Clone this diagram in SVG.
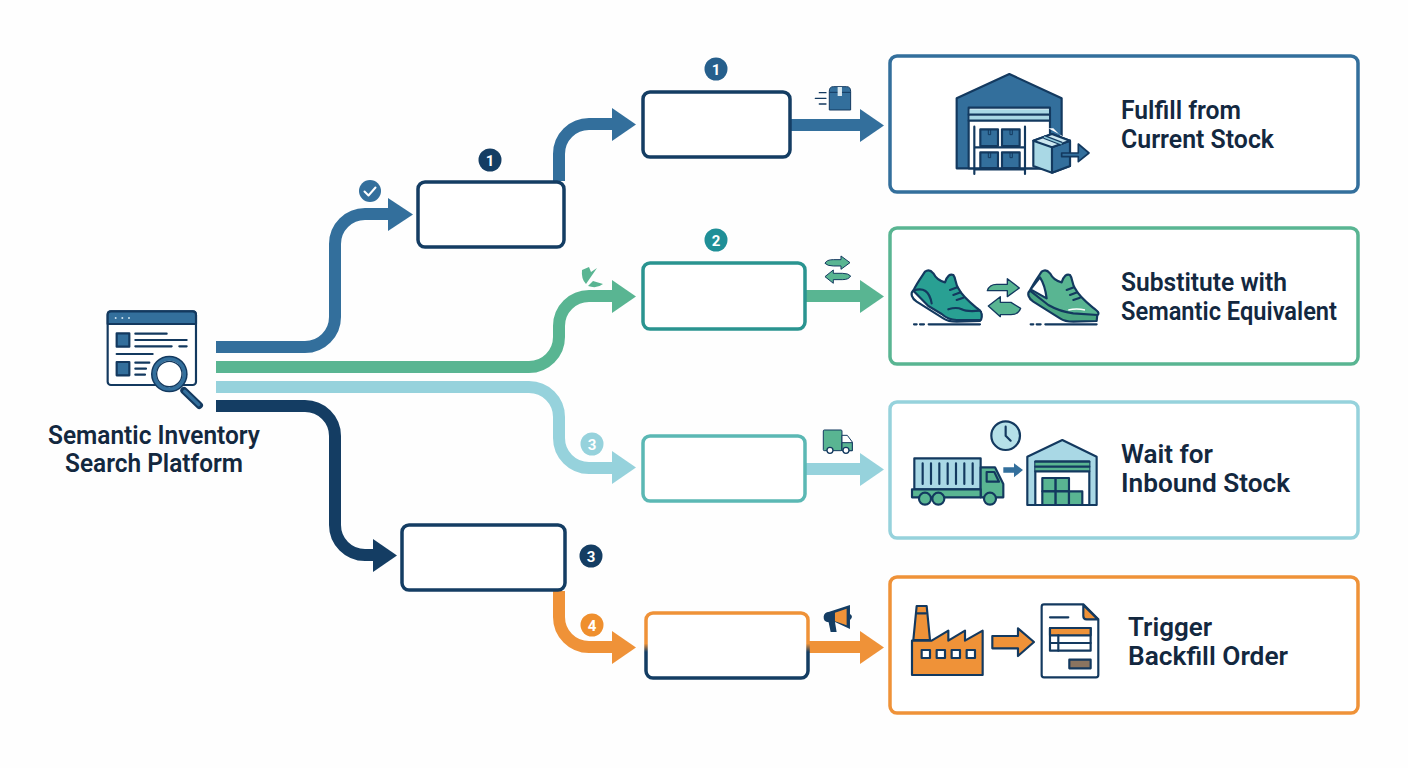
<svg xmlns="http://www.w3.org/2000/svg" width="1408" height="768" viewBox="0 0 1408 768">
<defs>
<style>
.lbl{font-family:Roboto,"Liberation Sans",sans-serif;font-weight:600;font-size:25px;fill:#13283f}
.num{font-family:Roboto,"Liberation Sans",sans-serif;font-weight:700;font-size:15px;fill:#fff;text-anchor:middle}
.box{fill:#fff;stroke-width:3.5}
.card{fill:#fff;stroke-width:3.5}
.conn{fill:none;stroke-width:12}
.ink{stroke:#13395f;stroke-width:6.5;stroke-linejoin:round;stroke-linecap:round}
.inkl{stroke:#13395f;stroke-width:6.5;fill:none;stroke-linecap:round;stroke-linejoin:round}
</style>
<linearGradient id="split" x1="0" y1="0" x2="0" y2="1"><stop offset="0.47" stop-color="#ef9238"/><stop offset="0.6" stop-color="#143d63"/></linearGradient>
</defs>
<rect width="1408" height="768" fill="#fefefe"/>

<g id="connectors">
<path class="conn" stroke="#336f9c" d="M216 347H305A30 30 0 0 0 335 317V244A30 30 0 0 1 365 214H390"/>
<path fill="#336f9c" d="M388 198L413 214.500L388 231Z"/>
<path class="conn" stroke="#59b592" d="M216 367H529A30 30 0 0 0 559 337V326A30 30 0 0 1 589 296H614"/>
<path fill="#59b592" d="M612 280L636 296.500L612 313Z"/>
<path class="conn" stroke="#96d2dc" d="M216 387H529A30 30 0 0 1 559 417V438A30 30 0 0 0 589 468H614"/>
<path fill="#96d2dc" d="M612 451L636 467.500L612 484Z"/>
<path class="conn" stroke="#143d63" d="M216 406H305A30 30 0 0 1 335 436V525A30 30 0 0 0 365 555H375"/>
<path fill="#143d63" d="M373 539L397 555.500L373 572Z"/>
<path class="conn" stroke="#336f9c" d="M559 181V154A30 30 0 0 1 589 124H614"/>
<path fill="#336f9c" d="M612 108L636 124.500L612 141Z"/>
<path class="conn" stroke="#ef9238" d="M559 591V617A30 30 0 0 0 589 647H614"/>
<path fill="#ef9238" d="M612 631L636 647.500L612 664Z"/>
<path class="conn" stroke="#336f9c" d="M791 125H862"/>
<path fill="#336f9c" d="M860 109L884 125.500L860 142Z"/>
<path class="conn" stroke="#59b592" d="M806 296H862"/>
<path fill="#59b592" d="M860 280L884 296.500L860 313Z"/>
<path class="conn" stroke="#96d2dc" d="M806 469H862"/>
<path fill="#96d2dc" d="M860 453L884 469.500L860 486Z"/>
<path class="conn" stroke="#ef9238" d="M809 647H862"/>
<path fill="#ef9238" d="M860 631L884 647.500L860 664Z"/>
</g>

<g id="source">
<g transform="translate(90 170) scale(.3333)">
<rect x="53" y="424" width="265" height="221" rx="10" fill="#fff" class="ink"/>
<path d="M53 462V434Q53 424 63 424H308Q318 424 318 434V462Z" fill="#336f9c" class="ink"/>
<circle cx="77" cy="444" r="3" fill="#cfe3ee"/><circle cx="97" cy="444" r="3" fill="#cfe3ee"/><circle cx="117" cy="444" r="3" fill="#cfe3ee"/>
<rect x="80" y="490" width="38" height="40" fill="#336f9c" class="ink"/>
<rect x="80" y="576" width="38" height="40" fill="#336f9c" class="ink"/>
<path class="inkl" d="M136 491H230M136 510H290M136 529H245M268 529H290M80 552H188M136 578H178M136 596H168M136 614H165"/>
<path d="M282 662L328 706" stroke="#13395f" stroke-width="22" stroke-linecap="round"/>
<path d="M284 664L326 704" stroke="#336f9c" stroke-width="10" stroke-linecap="round"/>
<circle cx="238" cy="612" r="55" fill="#13395f"/>
<circle cx="238" cy="612" r="45" fill="#fff" stroke="#336f9c" stroke-width="11"/>
<circle cx="238" cy="612" r="38" fill="#fff" stroke="#13395f" stroke-width="4"/>
</g>
<text class="lbl" x="48" y="444" textLength="212" lengthAdjust="spacingAndGlyphs">Semantic Inventory</text>
<text class="lbl" x="65" y="472" textLength="178" lengthAdjust="spacingAndGlyphs">Search Platform</text>
</g>

<g id="check-badge"><circle cx="370" cy="191" r="11" fill="#336f9c"/><path d="M364.500 191.500L368.500 195.500L375.500 187.500" fill="none" stroke="#fff" stroke-width="2" stroke-linecap="round" stroke-linejoin="round"/></g>

<g id="step-a"><rect class="box" x="418" y="182" width="146" height="65" rx="7" stroke="#143d63"/><circle cx="490" cy="160" r="11.500" fill="#143d63"/><text class="num" x="490" y="165.500">1</text></g>
<g id="step-a1"><rect class="box" x="643" y="92" width="147" height="65" rx="7" stroke="#143d63"/><circle cx="716" cy="69" r="11.500" fill="#265f8c"/><text class="num" x="716" y="74.500">1</text></g>
<g id="step-b"><rect class="box" x="643" y="263" width="162" height="66" rx="7" stroke="#2a9490"/><circle cx="716" cy="240" r="11.500" fill="#1f8f97"/><text class="num" x="716" y="245.500">2</text></g>
<g id="step-c"><rect class="box" x="643" y="436" width="162" height="65" rx="7" stroke="#5bb8b4"/><circle cx="592" cy="444" r="11.500" fill="#96d2dc"/><text class="num" x="592" y="449.500">3</text></g>
<g id="step-d"><rect class="box" x="402" y="525" width="163" height="65" rx="7" stroke="#143d63"/><circle cx="591" cy="556" r="11.500" fill="#143d63"/><text class="num" x="591" y="561.500">3</text></g>
<g id="step-d1"><rect class="box" x="646" y="613" width="162" height="65" rx="7" stroke="url(#split)"/><circle cx="592" cy="625" r="11.500" fill="#ef8f2e"/><text class="num" x="592" y="630.500">4</text></g>

<g id="icon-broken" fill="#59b592"><path d="M582 270L589 267L591 272L597 268L586 284Q581 279 582 270Z"/><path d="M588 286L593 281L603 284Q597 289 588 286Z"/></g>

<g id="icon-package" transform="translate(540 50) scale(.3333)">
<path class="inkl" style="stroke-width:4" d="M838 128H858M826 145H858M838 162H858"/>
<path d="M868 124Q868 110 880 110H920Q932 110 932 124V180H868Z" fill="#336f9c" stroke="#13395f" stroke-width="3"/>
<path d="M868 127H932" stroke="#13395f" stroke-width="3"/><rect x="893" y="111" width="13" height="27" fill="#d8e8ef"/>
</g>
<g id="icon-swap" transform="translate(540 50) scale(.3333)">
<path d="M855 640Q860 629 880 629H903V618L930 638L903 658V648H880Q862 648 855 640Z" fill="#59b592" stroke="#13395f" stroke-width="3"/>
<path d="M932 678Q927 689 907 689H880V700L855 680L880 660V670H907Q925 670 932 678Z" fill="#59b592" stroke="#13395f" stroke-width="3"/>
</g>
<g id="icon-truck" transform="translate(540 420) scale(.3333)">
<rect x="850" y="30" width="56" height="62" rx="3" fill="#59b592" stroke="#13395f" stroke-width="3"/>
<path d="M906 46H922L937 66V92H906Z" fill="#fff" stroke="#13395f" stroke-width="3"/><path d="M906 68H937V92H906Z" fill="#59b592" stroke="#13395f" stroke-width="3"/>
<circle cx="870" cy="91" r="9" fill="#fff" stroke="#13395f" stroke-width="4"/><circle cx="918" cy="91" r="9" fill="#fff" stroke="#13395f" stroke-width="4"/>
</g>
<g id="icon-horn" transform="translate(540 420) scale(.3333)">
<path d="M868 575L930 555V627L885 606L890 636H872L866 607Q850 605 851 590Q852 577 868 575Z" fill="#143d63"/>
<path d="M885 578L920 566V616L885 604Z" fill="#ef9238"/><path d="M930 582Q942 590 930 600Z" fill="#143d63"/>
</g>

<g id="result-fulfill">
<rect class="card" x="890" y="56" width="468" height="136" rx="7" stroke="#336f9c"/>
<g transform="translate(920 60) scale(.3333)">
<path d="M110 115L268 42L425 115V325H110Z" fill="#336f9c" class="ink"/>
<rect x="146" y="143" width="244" height="182" fill="#fff" class="ink"/>
<rect x="149" y="148" width="238" height="14" fill="#a9d8e5"/><rect x="149" y="167" width="238" height="13" fill="#a9d8e5"/>
<path class="inkl" d="M146 164H390M146 182H390"/>
<path class="inkl" d="M163 200V342M315 200V342M163 262H315M163 328H315"/>
<g fill="#336f9c" class="ink"><rect x="181" y="208" width="53" height="50"/><rect x="246" y="208" width="53" height="50"/><rect x="181" y="277" width="53" height="47"/><rect x="246" y="277" width="53" height="47"/></g>
<path d="M205 208V224H212V208M270 208V224H277V208M205 277V293H212V277M270 277V293H277V277" fill="none" stroke="#13395f" stroke-width="3"/>
<path d="M385 205L440 235L425 230L400 205Z" fill="#fff"/>
<path d="M340 242L396 222L450 242V318L396 338L340 318Z" fill="#a9d8e5" class="ink"/>
<path d="M396 262L450 242V318L396 338Z" fill="#336f9c" class="ink"/>
<path d="M340 242L396 222L450 242L396 262Z" fill="#cde8f0" class="ink"/>
<path d="M372 231L425 251" stroke="#13395f" stroke-width="12"/><path d="M372 231L425 251" stroke="#8fc9da" stroke-width="5"/>
<path d="M425 279H475V252L507 279L475 305V290H425Z" fill="#336f9c" stroke="#13395f" stroke-width="5" stroke-linejoin="round"/>
</g>
<text class="lbl" x="1121" y="119" textLength="120" lengthAdjust="spacingAndGlyphs">Fulfill from</text>
<text class="lbl" x="1121" y="148" textLength="153" lengthAdjust="spacingAndGlyphs">Current Stock</text>
</g>

<g id="result-substitute">
<rect class="card" x="890" y="228" width="468" height="136" rx="7" stroke="#59b592"/>
<g transform="translate(900 250) scale(.3333)">
<path d="M40 122C30 130 35 145 50 155L130 205Q145 215 170 215L240 213L243 185Z" fill="#fff" class="ink"/>
<path d="M40 122C50 100 65 80 75 65Q88 55 100 70C110 90 125 95 135 97Q145 68 160 75C168 85 165 100 175 115C190 145 220 165 238 180Q250 190 243 210L170 210Q145 210 125 192L85 168Z" fill="#29a093" class="ink"/>
<path class="inkl" d="M40 122Q85 105 95 160M150 120L172 112M160 135L182 127M170 150L190 143M145 178Q170 170 185 178T240 182"/>
<path class="inkl" d="M42 223H50M60 223H72M86 223H240"/>
<g transform="translate(350 0)">
<path d="M40 122C30 130 35 145 50 155L130 205Q145 215 170 215L240 213L243 185Z" fill="#4aa682" class="ink"/>
<path d="M40 122C50 100 65 80 75 65Q88 55 100 70C110 90 125 95 135 97Q145 68 160 75C168 85 165 100 175 115C190 145 220 165 238 180Q250 190 243 195L170 190Q130 185 95 165Z" fill="#59b592" class="ink"/>
<path d="M42 118L70 82Q85 105 90 145Z" fill="#fff" class="ink"/>
<path d="M150 120L172 112M160 135L182 127M170 150L190 143" class="inkl"/>
<path d="M155 180Q180 174 205 180" stroke="#fff" stroke-width="4" fill="none"/>
<path class="inkl" d="M42 223H50M60 223H72M86 223H240"/>
</g>
<path d="M262 122Q268 103 290 103H322V86L358 114L322 140V122H290Z" fill="#59b592" stroke="#13395f" stroke-width="4" stroke-linejoin="round"/>
<path d="M362 175Q355 194 333 194H301V200L265 168L301 140V157H333Z" fill="#59b592" stroke="#13395f" stroke-width="4" stroke-linejoin="round"/>
</g>
<text class="lbl" x="1121" y="291" textLength="166" lengthAdjust="spacingAndGlyphs">Substitute with</text>
<text class="lbl" x="1121" y="320" textLength="216" lengthAdjust="spacingAndGlyphs">Semantic Equivalent</text>
</g>

<g id="result-wait">
<rect class="card" x="890" y="402" width="468" height="136" rx="7" stroke="#96d2dc"/>
<g transform="translate(900 410) scale(.3333)">
<circle cx="317" cy="77" r="43" fill="#b5e0e8" class="ink"/><path class="inkl" d="M317 50V77L332 92"/>
<rect x="43" y="145" width="199" height="93" fill="#a9d8e5" class="ink"/>
<path class="inkl" d="M68 160V222M93 160V222M118 160V222M143 160V222M168 160V222M193 160V222M218 160V222"/>
<path d="M242 172H285L310 222V262H242Z" fill="#59b592" class="ink"/>
<path d="M260 186H283L297 215H260Z" fill="#59b592" class="ink"/>
<rect x="36" y="238" width="206" height="24" fill="#59b592" class="ink"/>
<circle cx="75" cy="266" r="18" fill="#59b592" class="ink"/><circle cx="115" cy="266" r="18" fill="#59b592" class="ink"/><circle cx="270" cy="266" r="18" fill="#59b592" class="ink"/>
<path d="M310 172H342V160L369 180L342 202V188H310Z" fill="#336f9c"/>
<path d="M382 140L487 90L590 140V285H382Z" fill="#a9d8e5" class="ink"/>
<rect x="406" y="155" width="162" height="130" fill="#fff" class="ink"/>
<rect x="406" y="155" width="162" height="28" fill="#59b592"/><path class="inkl" d="M406 155H568M406 170H568M406 184H568"/>
<g fill="#59b592" class="ink"><rect x="427" y="204" width="40" height="40"/><rect x="467" y="204" width="40" height="40"/><rect x="427" y="244" width="40" height="41"/><rect x="467" y="244" width="40" height="41"/><rect x="507" y="244" width="40" height="41"/></g>
</g>
<text class="lbl" x="1121" y="463" textLength="92" lengthAdjust="spacingAndGlyphs">Wait for</text>
<text class="lbl" x="1121" y="492" textLength="169" lengthAdjust="spacingAndGlyphs">Inbound Stock</text>
</g>

<g id="result-backfill">
<rect class="card" x="890" y="577" width="468" height="136" rx="7" stroke="#ef9238"/>
<g transform="translate(900 590) scale(.3333)">
<path d="M50 48H80L90 150H40Z" fill="#ef9238" class="ink"/><path d="M52 70H78" class="inkl"/>
<path d="M36 152H95L145 122V152L195 122V152L248 122V255H36Z" fill="#ef9238" class="ink"/>
<g fill="#fff" class="ink"><rect x="65" y="180" width="25" height="24"/><rect x="110" y="180" width="25" height="24"/><rect x="155" y="180" width="25" height="24"/><rect x="200" y="180" width="25" height="24"/></g>
<path d="M277 138H354V115L402 156L354 198V175H277Z" fill="#ef9238" class="ink"/>
<path d="M425 50Q425 43 432 43H550L595 88V255Q595 262 588 262H432Q425 262 425 255Z" fill="#fff" class="ink"/>
<path d="M550 45V78Q550 88 560 88H593Z" fill="#ef9238" class="ink"/>
<path class="inkl" d="M450 82H505"/>
<rect x="450" y="114" width="122" height="68" fill="#fff" class="ink"/><rect x="450" y="114" width="122" height="22" fill="#ef9238" class="ink"/>
<path class="inkl" d="M450 159H572M475 136V182"/>
<rect x="508" y="209" width="64" height="26" fill="#8a7460" class="ink"/>
</g>
<text class="lbl" x="1128" y="636" textLength="84" lengthAdjust="spacingAndGlyphs">Trigger</text>
<text class="lbl" x="1128" y="665" textLength="160" lengthAdjust="spacingAndGlyphs">Backfill Order</text>
</g>
</svg>
